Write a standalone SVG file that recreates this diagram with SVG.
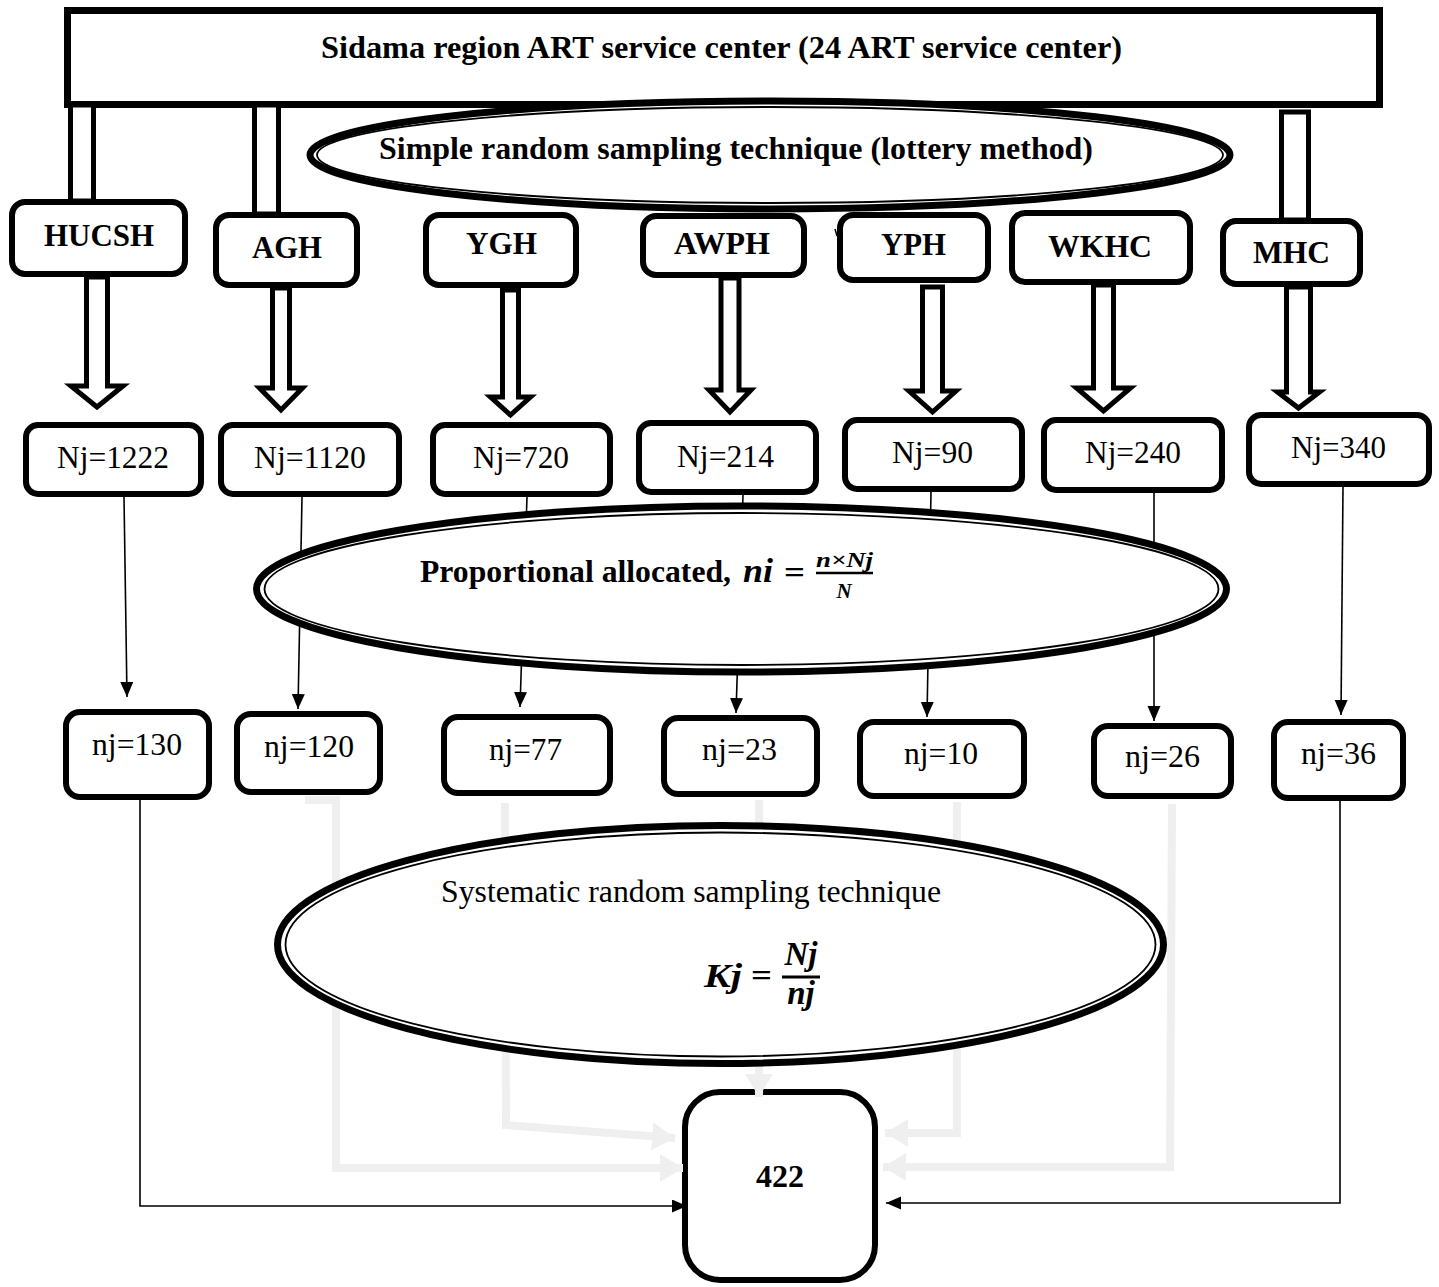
<svg xmlns="http://www.w3.org/2000/svg" width="1439" height="1287" viewBox="0 0 1439 1287">
<defs>
<style>
.box{fill:#fff;stroke:#000;stroke-width:6}
.bar{fill:#fff;stroke:#000;stroke-width:5;stroke-linejoin:miter}
.thin{fill:none;stroke:#000;stroke-width:1.6}
.gray{fill:none;stroke:#efefef;stroke-width:8}
.eo{fill:#fff;stroke:#000;stroke-width:7}
.ei{fill:none;stroke:#000;stroke-width:1.8}
.b{font-family:"Liberation Serif","Times New Roman",serif;font-weight:bold;font-size:32px;fill:#000}
.r{font-family:"Liberation Serif","Times New Roman",serif;font-size:32px;fill:#000}
.m{font-family:"Liberation Serif","Times New Roman",serif;font-weight:bold;font-style:italic;fill:#000}
</style>
<marker id="ah" markerUnits="userSpaceOnUse" markerWidth="16" markerHeight="14" refX="15" refY="6.5" orient="auto">
<path d="M0,0 L15,6.5 L0,13 z" fill="#000"/>
</marker>
<marker id="gh" markerUnits="userSpaceOnUse" markerWidth="24" markerHeight="30" refX="23" refY="14" orient="auto">
<path d="M0,0 L23,14 L0,28 z" fill="#efefef"/>
</marker>
</defs>
<rect width="1439" height="1287" fill="#fff"/>

<g id="top">
<rect x="67.5" y="10.5" width="1312" height="94" fill="#fff" stroke="#000" stroke-width="7"/>
<text class="b" x="321" y="58" font-size="33" textLength="801" lengthAdjust="spacingAndGlyphs">Sidama region ART service center (24 ART service center)</text>
</g>

<g id="bars">
<rect class="bar" x="70.5" y="105" width="23" height="96"/>
<rect class="bar" x="254.5" y="105" width="24" height="109"/>
<rect class="bar" x="1281.5" y="112" width="27" height="108"/>
</g>

<g id="simple-ellipse">
<ellipse class="eo" cx="770" cy="155" rx="460" ry="54"/>
<ellipse class="ei" cx="770" cy="155" rx="453" ry="48"/>
<text class="b" x="379" y="159" font-size="31" textLength="714" lengthAdjust="spacingAndGlyphs">Simple random sampling technique (lottery method)</text>
</g>

<path d="M835,229 L837,236" stroke="#000" stroke-width="1.5"/>

<g id="hollow-arrows">
<path class="bar" d="M86.5,277 L86.5,386 L71,386 L97,407 L123,386 L107.5,386 L107.5,277 Z"/>
<path class="bar" d="M272.5,288 L272.5,388 L259.5,388 L281,410 L302.5,388 L289.5,388 L289.5,288 Z"/>
<path class="bar" d="M502.5,290 L502.5,397 L490.5,397 L510.5,415 L530.5,397 L518.5,397 L518.5,290 Z"/>
<path class="bar" d="M721,278 L721,390 L709,390 L730,412 L751,390 L739,390 L739,278 Z"/>
<path class="bar" d="M922.5,287 L922.5,391 L909,391 L932.5,412 L956,391 L942.5,391 L942.5,287 Z"/>
<path class="bar" d="M1093.5,285 L1093.5,388 L1076.5,388 L1103.5,411 L1130.5,388 L1113.5,388 L1113.5,285 Z"/>
<path class="bar" d="M1286.5,287 L1286.5,392 L1277.5,392 L1298.5,408 L1319.5,392 L1310.5,392 L1310.5,287 Z"/>
</g>

<g id="n-hucsh"><rect class="box" x="12" y="202" width="173" height="72" rx="13"/><text class="b" x="44" y="246" textLength="110" lengthAdjust="spacingAndGlyphs">HUCSH</text></g>
<g id="n-agh"><rect class="box" x="216" y="215" width="141" height="70" rx="13"/><text class="b" x="252" y="258" textLength="70" lengthAdjust="spacingAndGlyphs">AGH</text></g>
<g id="n-ygh"><rect class="box" x="426" y="215" width="150" height="70" rx="13"/><text class="b" x="466" y="254" textLength="71" lengthAdjust="spacingAndGlyphs">YGH</text></g>
<g id="n-awph"><rect class="box" x="643" y="216" width="161" height="59" rx="13"/><text class="b" x="674" y="254" textLength="96" lengthAdjust="spacingAndGlyphs">AWPH</text></g>
<g id="n-yph"><rect class="box" x="840" y="215" width="148" height="65" rx="13"/><text class="b" x="881" y="255" textLength="65" lengthAdjust="spacingAndGlyphs">YPH</text></g>
<g id="n-wkhc"><rect class="box" x="1012" y="213" width="178" height="69" rx="13"/><text class="b" x="1048" y="257" textLength="104" lengthAdjust="spacingAndGlyphs">WKHC</text></g>
<g id="n-mhc"><rect class="box" x="1223" y="221" width="137" height="63" rx="13"/><text class="b" x="1253" y="263" textLength="77" lengthAdjust="spacingAndGlyphs">MHC</text></g>

<g id="N-1222"><rect class="box" x="26" y="425" width="175" height="69" rx="12"/><text class="r" x="57" y="468" textLength="112" lengthAdjust="spacingAndGlyphs">Nj=1222</text></g>
<g id="N-1120"><rect class="box" x="221" y="425" width="178" height="69" rx="12"/><text class="r" x="254" y="468" textLength="112" lengthAdjust="spacingAndGlyphs">Nj=1120</text></g>
<g id="N-720"><rect class="box" x="433" y="425" width="177" height="69" rx="12"/><text class="r" x="473" y="468" textLength="96" lengthAdjust="spacingAndGlyphs">Nj=720</text></g>
<g id="N-214"><rect class="box" x="639" y="423" width="177" height="69" rx="12"/><text class="r" x="677" y="467" textLength="97" lengthAdjust="spacingAndGlyphs">Nj=214</text></g>
<g id="N-90"><rect class="box" x="845" y="420" width="177" height="69" rx="12"/><text class="r" x="892" y="463" textLength="81" lengthAdjust="spacingAndGlyphs">Nj=90</text></g>
<g id="N-240"><rect class="box" x="1044" y="420" width="178" height="70" rx="12"/><text class="r" x="1085" y="463" textLength="96" lengthAdjust="spacingAndGlyphs">Nj=240</text></g>
<g id="N-340"><rect class="box" x="1249" y="415" width="180" height="69" rx="12"/><text class="r" x="1291" y="458" textLength="95" lengthAdjust="spacingAndGlyphs">Nj=340</text></g>

<g id="nj-130"><rect class="box" x="66" y="712" width="143" height="85" rx="14"/><text class="r" x="92" y="755" textLength="90" lengthAdjust="spacingAndGlyphs">nj=130</text></g>
<g id="nj-120"><rect class="box" x="237" y="714" width="143" height="78" rx="14"/><text class="r" x="264" y="757" textLength="90" lengthAdjust="spacingAndGlyphs">nj=120</text></g>
<g id="nj-77"><rect class="box" x="444" y="717" width="166" height="76" rx="14"/><text class="r" x="489" y="760" textLength="73" lengthAdjust="spacingAndGlyphs">nj=77</text></g>
<g id="nj-23"><rect class="box" x="664" y="718" width="153" height="76" rx="14"/><text class="r" x="702" y="760" textLength="75" lengthAdjust="spacingAndGlyphs">nj=23</text></g>
<g id="nj-10"><rect class="box" x="860" y="722" width="164" height="74" rx="14"/><text class="r" x="904" y="764" textLength="74" lengthAdjust="spacingAndGlyphs">nj=10</text></g>
<g id="nj-26"><rect class="box" x="1094" y="726" width="137" height="70" rx="14"/><text class="r" x="1125" y="767" textLength="75" lengthAdjust="spacingAndGlyphs">nj=26</text></g>
<g id="nj-36"><rect class="box" x="1274" y="722" width="129" height="76" rx="14"/><text class="r" x="1301" y="764" textLength="75" lengthAdjust="spacingAndGlyphs">nj=36</text></g>

<g id="n-422"><rect class="box" x="685" y="1092" width="190" height="188" rx="35"/><text class="b" x="756" y="1187" font-size="30" textLength="48" lengthAdjust="spacingAndGlyphs">422</text></g>

<g id="connectors">
<path class="thin" d="M124,497 L127,697" marker-end="url(#ah)"/>
<path class="thin" d="M302,497 L298,709" marker-end="url(#ah)"/>
<path class="thin" d="M527,497 L520,707" marker-end="url(#ah)"/>
<path class="thin" d="M743,495 L736,713" marker-end="url(#ah)"/>
<path class="thin" d="M931,492 L927,717" marker-end="url(#ah)"/>
<path class="thin" d="M1154,493 L1154,721" marker-end="url(#ah)"/>
<path class="thin" d="M1343,487 L1341,715" marker-end="url(#ah)"/>
<path class="thin" d="M140,800 L140,1206 L687,1206" marker-end="url(#ah)"/>
<path class="thin" d="M1340,801 L1340,1203 L886,1203" marker-end="url(#ah)"/>
<path class="gray" d="M305,800 L336,800 L336,1168 L683,1168" marker-end="url(#gh)"/>
<path class="gray" d="M505,803 L506,1125 L675,1138" marker-end="url(#gh)"/>
<path class="gray" d="M759,800 L759,1097" marker-end="url(#gh)"/>
<path class="gray" d="M957,802 L957,1133 L885,1133" marker-end="url(#gh)"/>
<path class="gray" d="M1172,804 L1170,1167 L883,1167" marker-end="url(#gh)"/>
</g>

<g id="proportional-ellipse">
<ellipse class="eo" cx="741.5" cy="589" rx="485" ry="83"/>
<ellipse class="ei" cx="741.5" cy="589" rx="477" ry="76"/>
<text class="b" x="420" y="582" font-size="32" textLength="311" lengthAdjust="spacingAndGlyphs">Proportional allocated,</text>
<text class="m" x="743" y="582" font-size="33" textLength="30" lengthAdjust="spacingAndGlyphs">ni</text>
<text class="b" x="784" y="583" font-size="30" textLength="21" lengthAdjust="spacingAndGlyphs">=</text>
<text class="m" x="816" y="567" font-size="21" textLength="57" lengthAdjust="spacingAndGlyphs">n×Nj</text>
<line x1="816" y1="573" x2="873" y2="573" stroke="#000" stroke-width="2.5"/>
<text class="m" x="844" y="598" font-size="21" text-anchor="middle">N</text>
</g>

<g id="systematic-ellipse">
<ellipse class="eo" cx="720.5" cy="944.5" rx="443" ry="119"/>
<ellipse class="ei" cx="720.5" cy="944.5" rx="435" ry="112"/>
<text class="r" x="441" y="902" font-size="31" textLength="500" lengthAdjust="spacingAndGlyphs">Systematic random sampling technique</text>
<text class="m" x="704" y="987" font-size="33" textLength="38" lengthAdjust="spacingAndGlyphs">Kj</text>
<text class="b" x="751" y="986" font-size="30" textLength="21" lengthAdjust="spacingAndGlyphs">=</text>
<text class="m" x="801" y="965" font-size="33" text-anchor="middle">Nj</text>
<line x1="782" y1="977" x2="820" y2="977" stroke="#000" stroke-width="3"/>
<text class="m" x="801" y="1004" font-size="33" text-anchor="middle">nj</text>
</g>
</svg>
